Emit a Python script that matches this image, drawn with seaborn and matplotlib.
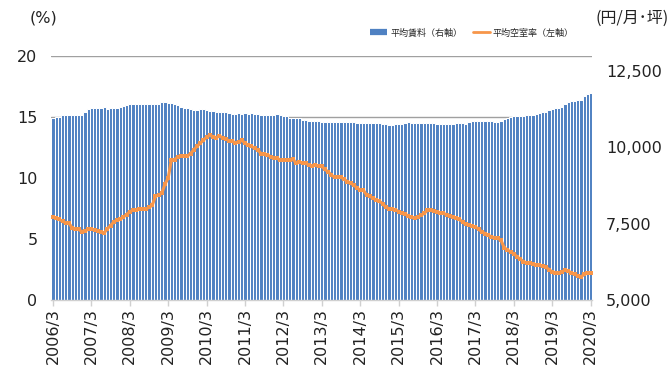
import numpy as np
import pandas as pd
import matplotlib
matplotlib.use("Agg")
import matplotlib.pyplot as plt
from matplotlib.ticker import FixedLocator, FuncFormatter
from matplotlib.lines import Line2D
import seaborn as sns

# Monthly series, 2006/3 .. 2020/3 (169 months)
rent = [
    10960, 10990, 11010, 11060, 11060, 11060, 11080, 11080, 11060, 11080, 11180, 11250,  # 2006/3-
    11290, 11290, 11290, 11290, 11320, 11270, 11290, 11290, 11290, 11320, 11360, 11400,  # 2007/3-
    11420, 11440, 11440, 11440, 11420, 11440, 11440, 11440, 11440, 11420, 11480, 11480,  # 2008/3-
    11470, 11470, 11420, 11400, 11330, 11310, 11290, 11260, 11230, 11230, 11270, 11270,  # 2009/3-
    11230, 11210, 11210, 11180, 11160, 11160, 11160, 11120, 11100, 11100, 11120, 11100,  # 2010/3-
    11120, 11100, 11120, 11100, 11100, 11060, 11060, 11060, 11060, 11060, 11100, 11070,  # 2011/3-
    11020, 11030, 10960, 10960, 10960, 10960, 10900, 10900, 10870, 10870, 10870, 10870,  # 2012/3-
    10850, 10850, 10820, 10820, 10820, 10850, 10820, 10820, 10820, 10820, 10820, 10800,  # 2013/3-
    10800, 10800, 10800, 10800, 10800, 10800, 10800, 10770, 10770, 10740, 10740, 10780,  # 2014/3-
    10780, 10780, 10800, 10830, 10800, 10800, 10800, 10800, 10800, 10800, 10800, 10800,  # 2015/3-
    10780, 10780, 10780, 10780, 10770, 10770, 10800, 10800, 10800, 10780, 10830, 10870,  # 2016/3-
    10870, 10870, 10870, 10870, 10870, 10870, 10830, 10830, 10870, 10940, 10960, 10990,  # 2017/3-
    11030, 11030, 11030, 11030, 11060, 11060, 11070, 11100, 11130, 11160, 11180, 11220,  # 2018/3-
    11250, 11290, 11290, 11330, 11430, 11480, 11520, 11520, 11560, 11560, 11700, 11740,  # 2019/3-
    11780,                                                                              # 2020/3
]

vacancy = [
    6.80, 6.70, 6.60, 6.45, 6.30, 6.30, 5.90, 5.85, 5.80, 5.60, 5.65, 5.80,
    5.80, 5.75, 5.65, 5.55, 5.50, 5.85, 6.10, 6.40, 6.55, 6.60, 6.80, 7.00,
    7.25, 7.35, 7.40, 7.45, 7.45, 7.45, 7.60, 7.75, 8.50, 8.60, 8.75, 9.50,
    10.00, 11.50, 11.50, 11.75, 11.80, 11.80, 11.80, 12.00, 12.30, 12.60, 12.85, 13.10,
    13.35, 13.50, 13.40, 13.30, 13.45, 13.30, 13.20, 13.05, 13.00, 12.90, 12.95, 13.10,
    12.85, 12.70, 12.60, 12.45, 12.30, 12.00, 11.95, 11.90, 11.75, 11.65, 11.60, 11.50,
    11.50, 11.45, 11.50, 11.55, 11.20, 11.30, 11.25, 11.20, 11.05, 11.00, 11.05, 10.95,
    10.95, 10.70, 10.50, 10.25, 10.05, 10.05, 10.05, 9.90, 9.70, 9.60, 9.40, 9.20,
    9.00, 9.00, 8.60, 8.50, 8.35, 8.20, 8.10, 7.90, 7.60, 7.50, 7.45, 7.40,
    7.25, 7.10, 7.05, 6.90, 6.80, 6.70, 6.80, 6.95, 7.10, 7.35, 7.35, 7.30,
    7.25, 7.10, 7.10, 7.00, 6.90, 6.80, 6.70, 6.60, 6.40, 6.20, 6.15, 6.05,
    6.00, 5.80, 5.60, 5.45, 5.30, 5.20, 5.10, 5.05, 4.90, 4.30, 4.10, 3.95,
    3.80, 3.55, 3.35, 3.15, 3.05, 3.00, 2.95, 2.90, 2.85, 2.75, 2.70, 2.50,
    2.30, 2.25, 2.20, 2.30, 2.45, 2.35, 2.25, 2.10, 2.00, 1.90, 2.10, 2.20,
    2.25,
]

year_labels = [f"{y}/3" for y in range(2006, 2021)]
pct_ticks = [0, 5, 10, 15, 20]
rent_ticks = [5000, 7500, 10000, 12500]

legend_rent = "平均賃料（右軸）"
legend_vac = "平均空室率（左軸）"
unit_left = "(%)"
unit_right = "(円/月･坪)"

BLUE = "#4F81C2"
ORANGE = "#F7964A"
TEXT = "#222222"

df = pd.DataFrame({"month": np.arange(len(rent)), "rent": rent, "vacancy": vacancy})

sns.set_theme(style="white")
plt.rcParams["font.family"] = ["DejaVu Sans", "Noto Sans CJK JP"]

fig = plt.figure(figsize=(6.7, 3.72), dpi=100)
ax = fig.add_axes([51.4 / 670, 1 - 300 / 372, 540.8 / 670, 244 / 372])
ax2 = ax.twinx()

# bars on the right-hand axis, line on the left-hand axis drawn on top
ax.set_zorder(ax2.get_zorder() + 1)
ax.patch.set_visible(False)

# full-width bars with a white outline: the outline forms the gaps and hides
# the gridlines behind the bars
sns.barplot(data=df, x="month", y="rent", ax=ax2, color=BLUE, width=1.0,
            saturation=1, linewidth=0.75, edgecolor="white", zorder=2)
sns.lineplot(data=df, x="month", y="vacancy", ax=ax, color=ORANGE, linewidth=2.2,
             marker="s", markersize=2.6, markeredgewidth=0, zorder=3)

ax.set_xlim(-0.5, len(rent) - 0.5)
ax.set_ylim(pct_ticks[0], pct_ticks[-1])
ax2.set_ylim(5000, 13000)

# gridlines follow the left-hand ticks but sit behind the bars
lo, hi = ax.get_ylim()
r_lo, r_hi = ax2.get_ylim()
grid_vals = [r_lo + (p - lo) / (hi - lo) * (r_hi - r_lo) for p in pct_ticks]
ax2.yaxis.set_minor_locator(FixedLocator(grid_vals))
ax2.grid(which="minor", axis="y", color="#A0A0A0", linewidth=1.0, zorder=0)
ax2.grid(which="major", visible=False)
ax2.set_axisbelow(True)
ax.grid(False)

ax.set_yticks(pct_ticks)
ax.set_yticklabels([str(p) for p in pct_ticks])
ax2.set_yticks(rent_ticks)
ax2.yaxis.set_major_formatter(FuncFormatter(lambda v, _: f"{int(v):,}"))

ax.set_xticks(np.arange(0, len(rent), 12))
ax.set_xticklabels(year_labels, rotation=90)

for a in (ax, ax2):
    for s in ("top", "left", "right", "bottom"):
        a.spines[s].set_visible(False)
    a.set_xlabel("")
    a.set_ylabel("")
ax.spines["bottom"].set_visible(True)
ax.spines["bottom"].set_color("#D0D0D0")
ax.spines["bottom"].set_linewidth(1.0)

ax.tick_params(axis="x", length=4, width=1, color="#D0D0D0", pad=2,
               labelsize=11.5, labelcolor=TEXT, bottom=True)
ax.tick_params(axis="y", length=0, pad=10, labelsize=11.5, labelcolor=TEXT)
ax2.tick_params(axis="y", which="both", length=0, pad=10, labelsize=11.5,
                labelcolor=TEXT)
ax2.tick_params(axis="x", length=0, labelbottom=False)

fig.text(30 / 670, 1 - 18 / 372, unit_left, fontsize=11.5, color=TEXT,
         ha="left", va="center")
fig.text(669 / 670, 1 - 18 / 372, unit_right, fontsize=11.5,
         family=["Noto Sans CJK JP", "DejaVu Sans"], color=TEXT,
         ha="right", va="center")

handles = [
    Line2D([0], [0], color=BLUE, linewidth=4.5, solid_capstyle="butt"),
    Line2D([0], [0], color=ORANGE, linewidth=2.0),
]
fig.legend(handles, [legend_rent, legend_vac], loc="center",
           bbox_to_anchor=(472 / 670, 1 - 33 / 372), ncol=2, frameon=False,
           prop={"family": ["Noto Sans CJK JP", "DejaVu Sans"], "size": 6.5},
           handlelength=1.9, handletextpad=0.3, columnspacing=1.2)

fig.savefig("out.png", dpi=100)
